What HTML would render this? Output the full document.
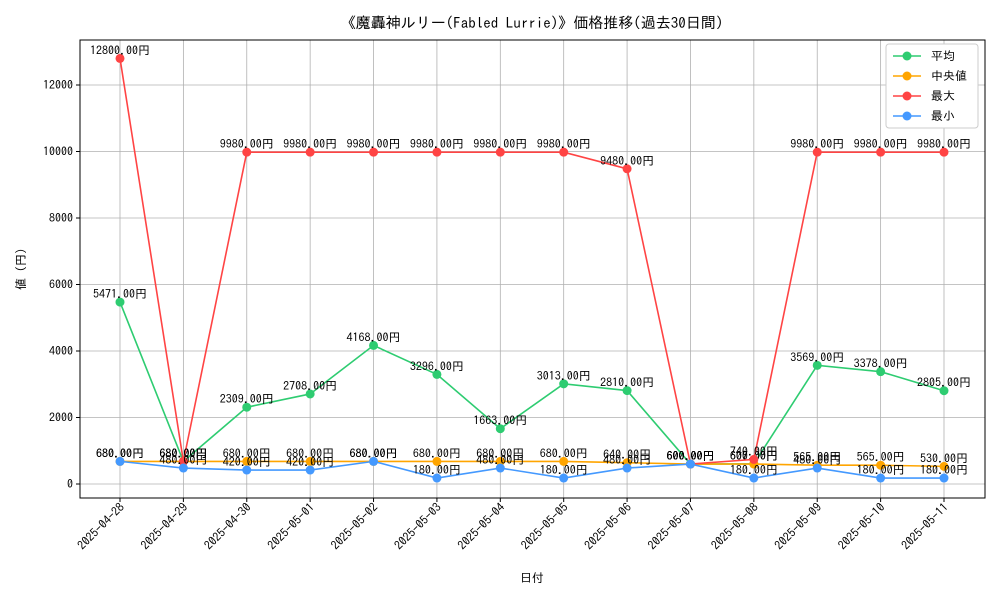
<!DOCTYPE html>
<html><head><meta charset="utf-8"><style>
body{margin:0;background:#fff;font-family:"IPAGothic","Noto Sans CJK JP",sans-serif}
text{font-family:"IPAGothic","Noto Sans CJK JP",sans-serif}
</style></head><body>
<svg id="chart" width="1000" height="600" xmlns="http://www.w3.org/2000/svg"></svg>
<script>
const dates=["2025-04-28","2025-04-29","2025-04-30","2025-05-01","2025-05-02","2025-05-03","2025-05-04","2025-05-05","2025-05-06","2025-05-07","2025-05-08","2025-05-09","2025-05-10","2025-05-11"];
const avgVals=[5471,680,2309,2708,4168,3296,1663,3013,2810,600,607,3569,3378,2805];
const medVals=[680,680,680,680,680,680,680,680,640,600,600,565,565,530];
const maxVals=[12800,680,9980,9980,9980,9980,9980,9980,9480,600,740,9980,9980,9980];
const minVals=[680,480,420,420,680,180,480,180,480,600,180,480,180,180];
const yTicks=[0,2000,4000,6000,8000,10000,12000];
const NS="http://www.w3.org/2000/svg";
const svg=document.getElementById('chart');
const L=80,R=985,T=40,B=498;
const x=i=>120+i*(944-120)/(dates.length-1);
const y=v=>484-v*0.03325;
function mk(t,a,p){const e=document.createElementNS(NS,t);for(const k in a)e.setAttribute(k,a[k]);(p||svg).appendChild(e);return e;}
dates.forEach((d,i)=>{const g=mk('line',{x1:x(i),x2:x(i),y1:T,y2:B,stroke:'#b0b0b0','stroke-width':0.8});

mk('line',{x1:x(i),x2:x(i),y1:B,y2:B+4,stroke:'#000'});
const t=mk('text',{x:0,y:0,'font-size':12,'text-anchor':'end',transform:`translate(${x(i)+5},${B+10}) rotate(-45)`});
t.textContent=d;});
yTicks.forEach(v=>{const g=mk('line',{x1:L,x2:R,y1:y(v),y2:y(v),stroke:'#b0b0b0','stroke-width':0.8});

mk('line',{x1:L-4,x2:L,y1:y(v),y2:y(v),stroke:'#000'});
const t=mk('text',{x:L-7,y:y(v)+4,'font-size':12,'text-anchor':'end'});t.textContent=v;
});
const fr=mk('rect',{x:L,y:T,width:R-L,height:B-T,fill:'none',stroke:'#000'});

const series=[["avg",avgVals,'#2ecc71'],["median",medVals,'#ffa500'],["max",maxVals,'#ff4444'],["min",minVals,'#4499ff']];
series.forEach(([n,vals,c])=>{
 const g=mk('g',{});
 mk('polyline',{points:vals.map((v,i)=>x(i)+','+y(v)).join(' '),fill:'none',stroke:c,'stroke-width':1.6},g);
 vals.forEach((v,i)=>{const p=mk('circle',{cx:x(i),cy:y(v),r:4.5,fill:c},g);
  
  const t=mk('text',{x:x(i),y:y(v)-4,'font-size':12,'text-anchor':'middle'},g);t.textContent=v+'.00円';
  });
});
const title=mk('text',{x:532,y:28,'font-size':15,'text-anchor':'middle'});title.textContent='《魔轟神ルリー(Fabled Lurrie)》価格推移(過去30日間)';

const xt=mk('text',{x:532,y:582,'font-size':12,'text-anchor':'middle'});xt.textContent='日付';

const yt=mk('text',{x:0,y:0,'font-size':12,'text-anchor':'middle',transform:'translate(25,269) rotate(-90)'});yt.textContent='値 (円)';

const lg=mk('g',{});
mk('rect',{x:886,y:44,width:92,height:84,fill:'#fff',stroke:'#ccc',rx:3},lg);
const names=['平均',' 中央値','最大','最小'];
series.forEach(([n,v,c],k)=>{const yy=56+k*20;
 mk('line',{x1:893,x2:921,y1:yy,y2:yy,stroke:c,'stroke-width':1.6},lg);
 mk('circle',{cx:907,cy:yy,r:4.5,fill:c},lg);
 const t=mk('text',{x:931,y:yy+4,'font-size':12},lg);t.textContent=names[k];
 });
</script>
</body></html>
